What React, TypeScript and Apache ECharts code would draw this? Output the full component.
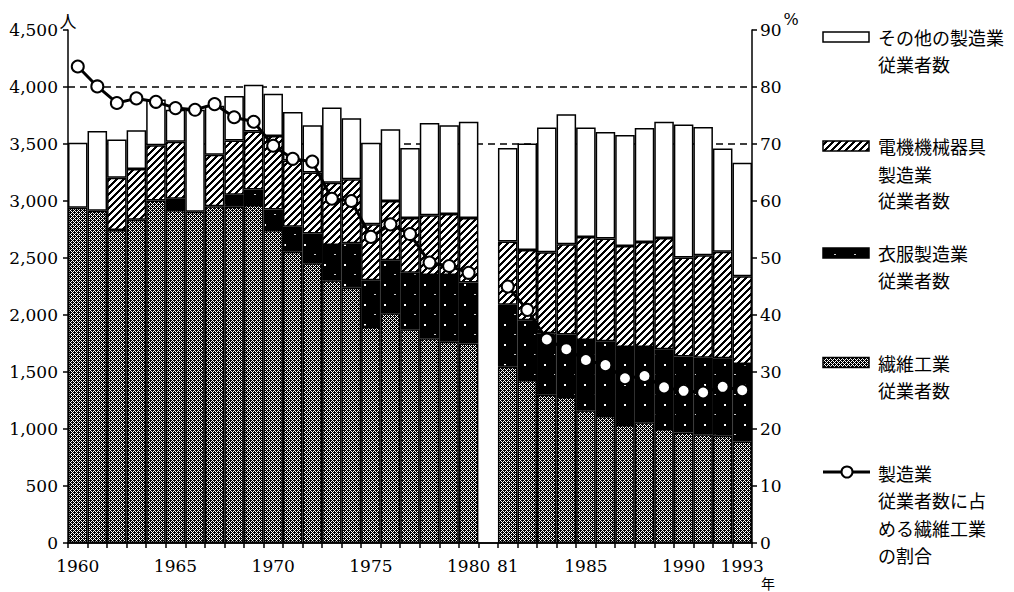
import React, { useEffect, useRef } from "react";
import * as echarts from "echarts";

// categories (an empty slot separates 1980 and 1981)
const categories = [
  "1960", "1961", "1962", "1963", "1964", "1965", "1966", "1967", "1968", "1969",
  "1970", "1971", "1972", "1973", "1974", "1975", "1976", "1977", "1978", "1979", "1980",
  "gap",
  "1981", "1982", "1983", "1984", "1985", "1986", "1987", "1988", "1989", "1990", "1991", "1992", "1993",
];
const shownYears = ["1960", "1965", "1970", "1975", "1980", "1981", "1985", "1990", "1993"];
const shownLabels = ["1960", "1965", "1970", "1975", "1980", "81", "1985", "1990", "1993"];

// 繊維工業 従業者数
const textile = [
  2940, 2915, 2745, 2835, 3005, 2920, 2905, 2955, 2950, 2965,
  2745, 2555, 2455, 2305, 2240, 1895, 2015, 1875, 1795, 1765, 1750,
  null,
  1545, 1430, 1300, 1280, 1165, 1115, 1035, 1060, 1000, 970, 955, 940, 890,
];
// 衣服製造業 従業者数
const clothing = [
  null, null, null, null, null, 100, null, null, 105, 135,
  180, 220, 260, 310, 390, 410, 465, 495, 555, 585, 535,
  null,
  545, 525, 540, 550, 615, 655, 685, 660, 700, 665, 670, 680, 680,
];
// 電機機械器具製造業 従業者数
const electric = [
  null, null, 460, 445, 485, 500, null, 450, 475, 510,
  645, 580, 535, 545, 560, 490, 520, 480, 525, 535, 565,
  null,
  555, 615, 710, 790, 905, 900, 885, 920, 975, 870, 900, 935, 770,
];
// その他の製造業 従業者数
const other = [
  570, 700, 335, 340, 400, 280, 895, 430, 390, 410,
  370, 425, 415, 660, 535, 715, 630, 615, 810, 780, 845,
  null,
  820, 935, 1095, 1140, 960, 935, 975, 1000, 1020, 1165, 1125, 905, 995,
];
// 製造業従業者数に占める繊維工業の割合 (%)
const share = [
  83.6, 80.1, 77.2, 78.0, 77.4, 76.3, 76.0, 77.0, 74.7, 73.9,
  69.7, 67.4, 66.9, 60.4, 60.0, 53.7, 55.9, 54.2, 49.2, 48.6, 47.4,
  null,
  45.0, 40.9, 35.7, 34.0, 32.1, 31.2, 28.9, 29.3, 27.3, 26.7, 26.4, 27.4, 26.8,
];
const dashedLevels = [4000, 3500];
const GAP_INDEX = 21;

const legendTexts = [
  ["その他の製造業", "従業者数"],
  ["電機機械器具", "製造業", "従業者数"],
  ["衣服製造業", "従業者数"],
  ["繊維工業", "従業者数"],
  ["製造業", "従業者数に占", "める繊維工業", "の割合"],
];

const SERIF = "DejaVu Serif";
const CJK = "Noto Sans CJK JP";

// [category, value] pairs, skipping missing values
function pairs(values: (number | null)[], from = 0, to = values.length) {
  const out: [string, number][] = [];
  for (let i = from; i < to; i++) {
    const v = values[i];
    if (v != null) out.push([categories[i], v]);
  }
  return out;
}

function makeTile(w: number, h: number, draw: (ctx: CanvasRenderingContext2D) => void) {
  const c = document.createElement("canvas");
  c.width = w;
  c.height = h;
  const ctx = c.getContext("2d")!;
  draw(ctx);
  return { image: c, repeat: "repeat", imageWidth: w, imageHeight: h } as any;
}

function makePatterns() {
  const textilePat = makeTile(4, 4, (ctx) => {
    ctx.fillStyle = "#000";
    ctx.fillRect(0, 0, 4, 4);
    ctx.fillStyle = "#fff";
    for (let x = 0; x < 4; x++)
      for (let y = 0; y < 4; y++)
        if ((x - y + 8) % 4 === 0 || (x + y) % 4 === 0) ctx.fillRect(x, y, 1, 1);
  });
  const hatchPat = makeTile(7, 7, (ctx) => {
    ctx.fillStyle = "#fff";
    ctx.fillRect(0, 0, 7, 7);
    ctx.fillStyle = "#000";
    for (let x = 0; x < 7; x++)
      for (let y = 0; y < 7; y++)
        if ((x + y) % 7 < 3) ctx.fillRect(x, y, 1, 1);
  });
  const clothingPat = makeTile(20, 20, (ctx) => {
    ctx.fillStyle = "#000";
    ctx.fillRect(0, 0, 20, 20);
    ctx.fillStyle = "#fff";
    ctx.fillRect(4, 4, 2, 2);
    ctx.fillStyle = "#ccc";
    ctx.fillRect(14, 14, 2, 1);
  });
  return { textilePat, hatchPat, clothingPat };
}

export default function App() {
  const ref = useRef<HTMLDivElement>(null);
  useEffect(() => {
    if (!ref.current) return;
    const chart = echarts.init(ref.current, undefined, { renderer: "svg" });
    const { textilePat, hatchPat, clothingPat } = makePatterns();

    const barCommon = {
      type: "bar",
      stack: "emp",
      barCategoryGap: "0%",
      xAxisIndex: 0,
      yAxisIndex: 0,
      z: 2,
    };

    const legendFills = ["#fff", hatchPat, clothingPat, textilePat];
    const legendRectY = [37, 146, 253, 362.5];
    const legendLineY = [
      [36.5, 64],
      [146, 173.5, 200],
      [253, 280],
      [362.5, 390],
      [472.5, 500, 527.5, 555],
    ];
    const graphics: any[] = [];
    legendRectY.forEach((cy, i) => {
      graphics.push({
        type: "rect",
        shape: { x: 823, y: cy - 5, width: 46, height: 10 },
        style: { fill: legendFills[i], stroke: "#000", lineWidth: 1.5 },
      });
    });
    graphics.push({
      type: "line",
      shape: { x1: 823, y1: 472, x2: 870, y2: 472 },
      style: { stroke: "#000", lineWidth: 3 },
    });
    graphics.push({
      type: "circle",
      shape: { cx: 847, cy: 472, r: 5.5 },
      style: { fill: "#fff", stroke: "#000", lineWidth: 2 },
    });
    legendTexts.forEach((lines, i) => {
      lines.forEach((t, j) => {
        graphics.push({
          type: "text",
          x: 878,
          y: legendLineY[i][j],
          style: { text: t, fontSize: 18, fontFamily: CJK, fill: "#000", verticalAlign: "middle", align: "left" },
        });
      });
    });
    graphics.push({
      type: "text", x: 68, y: 20,
      style: { text: "人", fontSize: 17, fontFamily: CJK, fill: "#000", verticalAlign: "middle", align: "center" },
    });
    graphics.push({
      type: "text", x: 791, y: 19,
      style: { text: "%", fontSize: 16, fontFamily: SERIF, fill: "#000", verticalAlign: "middle", align: "center" },
    });
    graphics.push({
      type: "text", x: 768, y: 583,
      style: { text: "年", fontSize: 14, fontFamily: CJK, fill: "#000", verticalAlign: "middle", align: "center" },
    });

    const axisLineStyle = { color: "#000", width: 1.5 };
    const lineCommon = {
      type: "line",
      xAxisIndex: 0,
      yAxisIndex: 1,
      symbol: "circle",
      symbolSize: 12,
      z: 5,
      lineStyle: { color: "#000", width: 3 },
      itemStyle: { color: "#fff", borderColor: "#000", borderWidth: 2 },
    };

    // hidden axes whose only split line falls on each dashed reference level
    const dashedAxes = dashedLevels.map((lv) => ({
      type: "value",
      position: "left",
      min: 0,
      max: 4500,
      interval: lv,
      axisLine: { show: false },
      axisTick: { show: false },
      axisLabel: { show: false },
      splitLine: {
        show: true,
        showMinLine: false,
        showMaxLine: false,
        lineStyle: { color: "#000", width: 1.5, type: [7, 5] },
      },
    }));

    chart.setOption({
      animation: false,
      backgroundColor: "#fff",
      grid: { left: 68, top: 30, width: 684, height: 513 },
      xAxis: [
        {
          type: "category",
          data: categories,
          axisLine: { show: true, lineStyle: axisLineStyle },
          axisTick: { show: true, interval: 0, length: 5, lineStyle: axisLineStyle },
          axisLabel: {
            interval: 0,
            margin: 14,
            color: "#000",
            fontFamily: SERIF,
            fontSize: 17,
            formatter: (v: string) => {
              const k = shownYears.indexOf(v);
              return k >= 0 ? shownLabels[k] : "";
            },
          },
          splitLine: { show: false },
          z: 10,
        },
        {
          type: "category",
          data: categories,
          position: "top",
          axisLine: { show: true, lineStyle: axisLineStyle },
          axisTick: { show: false },
          axisLabel: { show: false },
          splitLine: { show: false },
          z: 10,
        },
      ],
      yAxis: [
        {
          type: "value",
          min: 0, max: 4500, interval: 500,
          axisLine: { show: true, lineStyle: axisLineStyle },
          axisTick: { show: true, length: 5, lineStyle: axisLineStyle },
          axisLabel: {
            margin: 10, color: "#000", fontFamily: SERIF, fontSize: 17,
            formatter: (v: number) => v.toLocaleString("en-US"),
          },
          splitLine: { show: false },
        },
        {
          type: "value",
          position: "right",
          min: 0, max: 90, interval: 10,
          axisLine: { show: true, lineStyle: axisLineStyle },
          axisTick: { show: true, length: 5, lineStyle: axisLineStyle },
          axisLabel: { margin: 8, color: "#000", fontFamily: SERIF, fontSize: 17 },
          splitLine: { show: false },
        },
        ...dashedAxes,
      ],
      series: [
        {
          ...barCommon,
          name: "繊維工業従業者数",
          data: pairs(textile),
          itemStyle: { color: textilePat, borderColor: "#000", borderWidth: 1.5 },
        },
        {
          ...barCommon,
          name: "衣服製造業従業者数",
          data: pairs(clothing),
          itemStyle: { color: clothingPat, borderColor: "#000", borderWidth: 1.5 },
        },
        {
          ...barCommon,
          name: "電機機械器具製造業従業者数",
          data: pairs(electric),
          itemStyle: { color: hatchPat, borderColor: "#000", borderWidth: 1.5 },
        },
        {
          ...barCommon,
          name: "その他の製造業従業者数",
          data: pairs(other),
          itemStyle: { color: "#fff", borderColor: "#000", borderWidth: 1.5 },
        },
        {
          ...lineCommon,
          name: "製造業従業者数に占める繊維工業の割合",
          data: pairs(share, 0, GAP_INDEX),
        },
        {
          ...lineCommon,
          name: "製造業従業者数に占める繊維工業の割合 (1981-)",
          data: pairs(share, GAP_INDEX + 1),
        },
      ],
      graphic: graphics,
    });
    return () => chart.dispose();
  }, []);
  return (
    <div
      ref={ref}
      style={{ position: "absolute", left: 0, top: 0, width: 1014, height: 592, background: "#fff" }}
    />
  );
}
